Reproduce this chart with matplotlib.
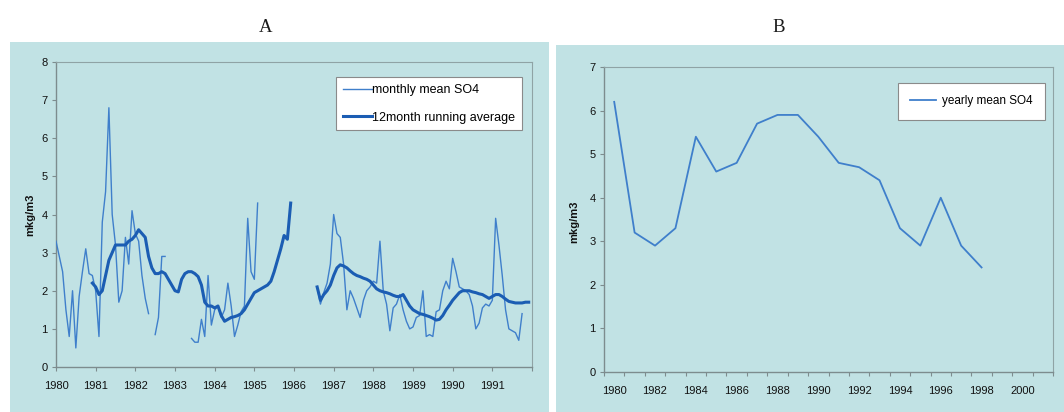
import matplotlib
matplotlib.use("Agg")
import matplotlib.pyplot as plt
from matplotlib.patches import Rectangle
import numpy as np

# ---------------- data ----------------
# Panel A: monthly mean SO4, month index 0 = Jan 1980 (None = missing)
monthly_mean = [
    3.3, 2.9, 2.5, 1.5, 0.8, 2.0, 0.5, 1.85, 2.5, 3.1, 2.45, 2.4,          # 1980
    2.0, 0.8, 3.8, 4.6, 6.8, 4.0, 3.2, 1.7, 2.0, 3.4, 2.7, 4.1,            # 1981
    3.5, 3.3, 2.4, 1.8, 1.4, None, 0.85, 1.3, 2.9, 2.9, None, None,       # 1982
    None, None, None, None, None, 0.75, 0.65, 0.65, 1.25, 0.8, 2.4, 1.1,  # 1983
    1.5, 1.6, 1.3, 1.5, 2.2, 1.6, 0.8, 1.1, 1.45, 1.6, 3.9, 2.5,          # 1984
    2.3, 4.3, None, None, None, None, None, None, None, None, None, None, # 1985
    None, None, None, None, None, None, None, 2.1, 1.65, 1.95, 2.2, 2.7,  # 1986
    4.0, 3.5, 3.4, 2.7, 1.5, 2.0, 1.8, 1.55, 1.3, 1.75, 2.0, 2.1,         # 1987
    2.25, 2.2, 3.3, 2.0, 1.65, 0.95, 1.55, 1.65, 1.9, 1.5, 1.2, 1.0,      # 1988
    1.05, 1.3, 1.35, 2.0, 0.8, 0.85, 0.8, 1.45, 1.5, 2.0, 2.25, 2.05,     # 1989
    2.85, 2.5, 2.1, 2.05, 2.0, 1.9, 1.6, 1.0, 1.15, 1.55, 1.65, 1.6,      # 1990
    1.75, 3.9, 3.2, 2.4, 1.5, 1.0, 0.95, 0.9, 0.7, 1.4,                   # 1991
]
# 12 month running average, first value at month 11
running_start = 11
running_avg = [
    2.2,
    2.1, 1.9, 2.0, 2.4, 2.8, 3.0, 3.2, 3.2, 3.2, 3.2, 3.3, 3.35,
    3.45, 3.6, 3.5, 3.4, 2.9, 2.6, 2.45, 2.45, 2.5, 2.45, 2.3, 2.15,
    2.0, 1.97, 2.3, 2.45, 2.5, 2.5, 2.45, 2.37, 2.15, 1.7, 1.6, 1.6,
    1.55, 1.6, 1.35, 1.2, 1.25, 1.3, 1.32, 1.35, 1.4, 1.5, 1.65, 1.8,
    1.95, 2.0, 2.05, 2.1, 2.15, 2.25, 2.5, 2.8, 3.1, 3.45, 3.35, 4.3,
    None, None, None, None, None, None, None, 2.1, 1.75, 1.9, 2.0, 2.15,
    2.4, 2.6, 2.68, 2.65, 2.6, 2.52, 2.45, 2.4, 2.37, 2.33, 2.3, 2.25,
    2.15, 2.05, 2.0, 1.97, 1.95, 1.92, 1.88, 1.85, 1.85, 1.9, 1.75, 1.6,
    1.5, 1.45, 1.4, 1.38, 1.35, 1.32, 1.28, 1.23, 1.25, 1.35, 1.5, 1.62,
    1.75, 1.85, 1.95, 2.0, 2.0, 2.0, 1.97, 1.95, 1.92, 1.9, 1.85, 1.8,
    1.85, 1.9, 1.9, 1.85, 1.78, 1.72, 1.7, 1.68, 1.68, 1.68, 1.7, 1.7,
]
a_year_labels = [str(y) for y in range(1980, 1992)]

# Panel B: yearly mean SO4
b_years = list(range(1980, 1999))
b_yearly = [6.2, 3.2, 2.9, 3.3, 5.4, 4.6, 4.8, 5.7, 5.9, 5.9, 5.4, 4.8,
            4.7, 4.4, 3.3, 2.9, 4.0, 2.9, 2.4]
b_label_years = list(range(1980, 2001, 2))

# ---------------- styling ----------------
W, H = 1064, 412
BG = "#c1e2e4"
THIN = "#3f7fcb"
THICK = "#1b5db3"
SPINE = "#7d8c8e"
plt.rcParams["font.family"] = ["Liberation Sans", "DejaVu Sans"]

fig = plt.figure(figsize=(W / 100, H / 100), dpi=100)


def fx(px):
    return px / W


def fy(py):
    return 1 - py / H


# panel backgrounds (behind the axes)
fig.patches.append(Rectangle((fx(10), 0), fx(549) - fx(10), fy(42), transform=fig.transFigure,
                             facecolor=BG, edgecolor="none", zorder=-5))
fig.patches.append(Rectangle((fx(556), 0), 1 - fx(556), fy(45), transform=fig.transFigure,
                             facecolor=BG, edgecolor="none", zorder=-5))

fig.text(fx(266), fy(27), "A", ha="center", va="center", fontsize=13.5,
         family="Liberation Serif", color="#1a1a1a")
fig.text(fx(779), fy(27), "B", ha="center", va="center", fontsize=13.5,
         family="Liberation Serif", color="#1a1a1a")


def style_axes(ax):
    ax.set_facecolor("none")
    for s in ["top", "right"]:
        ax.spines[s].set_color("#8fa3a5")
        ax.spines[s].set_linewidth(0.8)
    for s in ["left", "bottom"]:
        ax.spines[s].set_color(SPINE)
        ax.spines[s].set_linewidth(1.0)
    ax.tick_params(axis="both", which="both", direction="out", color=SPINE,
                   labelsize=8, labelcolor="#111111", width=0.8)


# ---------------- panel A ----------------
axA = fig.add_axes([fx(56), fy(367), fx(532) - fx(56), fy(62) - fy(367)])
style_axes(axA)
m_thin = np.arange(len(monthly_mean))
v_thin = np.array([np.nan if v is None else v for v in monthly_mean], dtype=float)
m_thick = np.arange(running_start, running_start + len(running_avg))
v_thick = np.array([np.nan if v is None else v for v in running_avg], dtype=float)
axA.plot(m_thin, v_thin, color=THIN, lw=1.0, label="monthly mean SO4", zorder=3)
axA.plot(m_thick, v_thick, color=THICK, lw=2.2, label="12month running average", zorder=4)
axA.set_xlim(0, 144)
axA.set_ylim(0, 8)
axA.set_yticks(range(0, 9))
axA.set_xticks(range(0, 145, 12))
axA.set_xticklabels(a_year_labels + [""])
axA.tick_params(axis="x", length=3, pad=7)
axA.tick_params(axis="y", length=3, pad=3)
fig.text(fx(30), fy(215), "mkg/m3", rotation=90, ha="center", va="center",
         fontsize=8, fontweight="bold", color="#111111")
legA = axA.legend(loc="upper left", bbox_to_anchor=(fx(336), fy(77)),
                  bbox_transform=fig.transFigure, fontsize=9, frameon=True,
                  fancybox=False, edgecolor="#8a8a8a", framealpha=1,
                  handlelength=2.3, handletextpad=0.05, labelspacing=1.25,
                  borderpad=0.55, borderaxespad=0)
legA.get_frame().set_linewidth(0.8)

# ---------------- panel B ----------------
axB = fig.add_axes([fx(604), fy(372), fx(1053) - fx(604), fy(67) - fy(372)])
style_axes(axB)
axB.plot(b_years, b_yearly, color=THIN, lw=1.3, label="yearly mean SO4")
axB.set_xlim(1979.5, 2001.5)
axB.set_ylim(0, 7)
axB.set_yticks(range(0, 8))
axB.set_xticks(np.arange(1979.5, 2002, 1.0))
axB.set_xticklabels([])
axB.set_xticks(b_label_years, minor=True)
axB.set_xticklabels([str(y) for y in b_label_years], minor=True)
axB.tick_params(axis="x", which="major", length=3)
axB.tick_params(axis="x", which="minor", length=0, pad=10)
axB.tick_params(axis="y", length=3, pad=3)
fig.text(fx(574), fy(222), "mkg/m3", rotation=90, ha="center", va="center",
         fontsize=8, fontweight="bold", color="#111111")
legB = axB.legend(loc="upper left", bbox_to_anchor=(fx(898), fy(83)),
                  bbox_transform=fig.transFigure, fontsize=8.5, frameon=True,
                  fancybox=False, edgecolor="#8a8a8a", framealpha=1,
                  handlelength=2.2, handletextpad=0.5,
                  borderpad=1.05, borderaxespad=0)
legB.get_frame().set_linewidth(0.8)

fig.savefig("out.png", dpi=100, facecolor="white")
